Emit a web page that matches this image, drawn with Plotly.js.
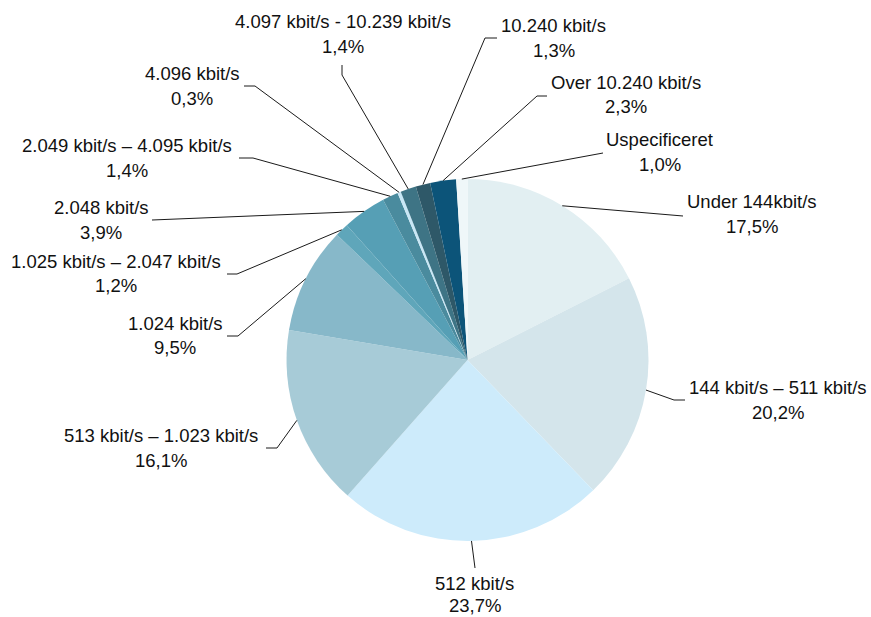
<!DOCTYPE html>
<html>
<head>
<meta charset="utf-8">
<script src="https://cdn.plot.ly/plotly-3.0.1.min.js"></script>
<style>html,body{margin:0;padding:0;background:#fff;}#chart{width:871px;height:617px;}</style>
</head>
<body>
<div id="chart"></div>
<script>
// ---- data ----
const categories = [
  "Under 144kbit/s",
  "144 kbit/s – 511 kbit/s",
  "512 kbit/s",
  "513 kbit/s – 1.023 kbit/s",
  "1.024 kbit/s",
  "1.025 kbit/s – 2.047 kbit/s",
  "2.048 kbit/s",
  "2.049 kbit/s – 4.095 kbit/s",
  "4.096 kbit/s",
  "4.097 kbit/s - 10.239 kbit/s",
  "10.240 kbit/s",
  "Over 10.240 kbit/s",
  "Uspecificeret"
];
const shares = [17.5, 20.2, 23.7, 16.1, 9.5, 1.2, 3.9, 1.4, 0.3, 1.4, 1.3, 2.3, 1.0];
const colors = ["#e2eff2","#d4e5eb","#cdebfb","#a7cbd7","#87b8c9","#5fa6ba","#569fb5",
                "#4a8b9e","#c8e7f6","#3e7485","#2e5868","#0c5479","#eff7f9"];

// ---- layout of labels (pixel positions: text centre x, line1 y, line2 y, leader elbow, leader end) ----
const W = 871, H = 617;
const cx = 467.5, cy = 360, R = 181;
const labelPos = [
  {x:752,   y1:202, y2:227, elbow:[683,216], end:[683,216]},
  {x:778,   y1:387, y2:412, elbow:[674,400], end:[685,400]},
  {x:475,   y1:583, y2:605, elbow:[475,568], end:[475,568]},
  {x:161,   y1:435, y2:460, elbow:[277,448], end:[266,448]},
  {x:175,   y1:323, y2:348, elbow:[238,336], end:[227,336]},
  {x:115.5, y1:261, y2:286, elbow:[237,274], end:[227,274]},
  {x:101,   y1:207, y2:232, elbow:[152,220], end:[152,220]},
  {x:127,   y1:145, y2:170, elbow:[253,158], end:[239,158]},
  {x:192,   y1:73,  y2:98,  elbow:[255,86],  end:[244,86]},
  {x:343,   y1:22,  y2:47,  elbow:[342,75],  end:[342,65]},
  {x:553.5, y1:25,  y2:50,  elbow:[485,38],  end:[497,38]},
  {x:625.5, y1:83,  y2:107, elbow:[537,96],  end:[547,96]},
  {x:659.5, y1:139, y2:164, elbow:[603,153], end:[603,153]}
];

const px = x => x / W;
const py = y => 1 - y / H;
const fmt = v => v.toFixed(1).replace('.', ',') + '%';

const total = shares.reduce((a,b)=>a+b,0);
let cum = 0;
const shapes = [];
const annotations = [];
shares.forEach((v,i)=>{
  const mid = (cum + v/2) / total * 2 * Math.PI;
  cum += v;
  const sx = cx + R * Math.sin(mid), sy = cy - R * Math.cos(mid);
  const L = labelPos[i];
  shapes.push({
    type:'path', xref:'paper', yref:'paper',
    path:`M ${px(sx)} ${py(sy)} L ${px(L.elbow[0])} ${py(L.elbow[1])} L ${px(L.end[0])} ${py(L.end[1])}`,
    line:{color:'#1a1a1a', width:1}
  });
  annotations.push({xref:'paper', yref:'paper', x:px(L.x), y:py(L.y1), text:categories[i],
    showarrow:false, xanchor:'center', yanchor:'middle', borderpad:0, font:{size:18.5, color:'#111'}});
  annotations.push({xref:'paper', yref:'paper', x:px(L.x), y:py(L.y2), text:fmt(v),
    showarrow:false, xanchor:'center', yanchor:'middle', borderpad:0, font:{size:18.5, color:'#111'}});
});

const trace = {
  type:'pie', values:shares, labels:categories, sort:false, direction:'clockwise', rotation:0,
  textinfo:'none', hoverinfo:'none', showlegend:false,
  marker:{colors:colors, line:{width:0}},
  domain:{x:[px(cx-R), px(cx+R)], y:[py(cy+R), py(cy-R)]}
};

const layout = {
  width:W, height:H, margin:{l:0,r:0,t:0,b:0},
  paper_bgcolor:'#fff', plot_bgcolor:'#fff',
  font:{family:'"Liberation Sans", Arial, sans-serif', size:18.5, color:'#111'},
  showlegend:false, shapes:shapes, annotations:annotations
};
Plotly.newPlot('chart', [trace], layout, {displayModeBar:false, staticPlot:true});
</script>
</body>
</html>
